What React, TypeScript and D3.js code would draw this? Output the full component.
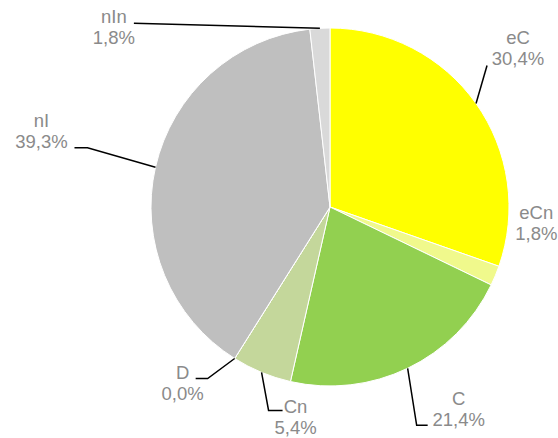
import React from "react";
import * as d3 from "d3";

// slice data, clockwise from 12 o'clock
const categories = ["eC", "eCn", "C", "Cn", "D", "nI", "nIn"];
const shares = [30.4, 1.8, 21.4, 5.4, 0.0, 39.3, 1.8];
const valueLabels = ["30,4%", "1,8%", "21,4%", "5,4%", "0,0%", "39,3%", "1,8%"];
const colors = ["#ffff00", "#f0f98c", "#92d050", "#c4d79b", "#c4d79b", "#bfbfbf", "#d9d9d9"];

// label placement, relative to the point where the slice's middle meets the rim
const labelLayout = [
  { tx: 42, ty: -59.5, leader: [[11, -38]] },
  { tx: 41, ty: -57, leader: [] },
  { tx: 51, ty: 37, leader: [[9, 57], [20, 57]] },
  { tx: 34, ty: 41, leader: [[7, 38], [21, 38]] },
  { tx: -52, ty: 21, leader: [[-27, 20], [-39, 20]] },
  { tx: -114, ty: -40, leader: [[-68, -19.5], [-81, -19.5]] },
  { tx: -206, ty: -5, leader: [[-186, -5]] },
];

const width = 558;
const height = 438;
const cx = 330;
const cy = 207;
const radius = 179;

export default function App() {
  const pie = d3.pie<number>().sort(null).value((d) => d);
  const arcs = pie(shares);
  const arc = d3.arc<d3.PieArcDatum<number>>().innerRadius(0).outerRadius(radius);
  const line = d3.line();

  return (
    <svg
      width={width}
      height={height}
      style={{ position: "absolute", left: 0, top: 0, background: "#fff" }}
      fontFamily="'Liberation Sans', Arial, sans-serif"
    >
      <g transform={`translate(${cx},${cy})`}>
        {arcs.map((a, i) => (
          <path key={categories[i]} d={arc(a) || ""} fill={colors[i]} stroke="#fff" strokeWidth={1} />
        ))}
        {arcs.map((a, i) => {
          const mid = (a.startAngle + a.endAngle) / 2;
          const ax = radius * Math.sin(mid);
          const ay = -radius * Math.cos(mid);
          const lay = labelLayout[i];
          const pts: [number, number][] = [[ax, ay], ...lay.leader.map(([dx, dy]) => [ax + dx, ay + dy] as [number, number])];
          return (
            <g key={"lab" + i}>
              {lay.leader.length > 0 && (
                <path d={line(pts) || ""} fill="none" stroke="#000" strokeWidth={1.5} />
              )}
              <text x={ax + lay.tx} y={ay + lay.ty} textAnchor="middle" fontSize={18.5} fill="#8a8a8a">
                <tspan x={ax + lay.tx}>{categories[i]}</tspan>
                <tspan x={ax + lay.tx} dy={21}>{valueLabels[i]}</tspan>
              </text>
            </g>
          );
        })}
      </g>
    </svg>
  );
}
